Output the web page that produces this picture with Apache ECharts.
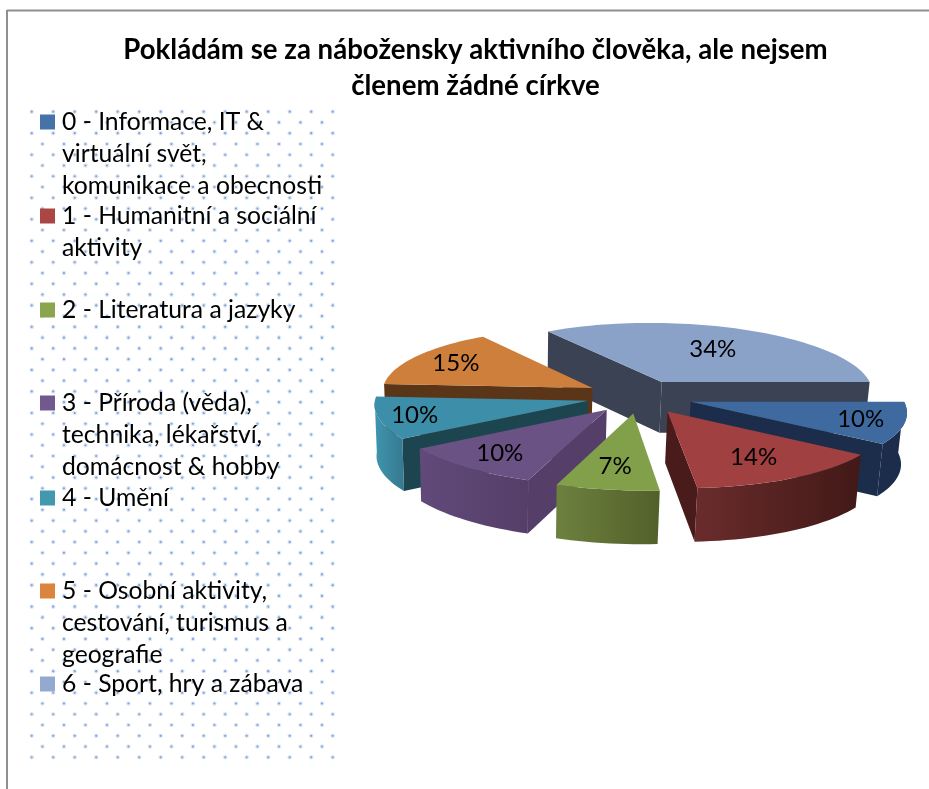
<!DOCTYPE html>
<html><head><meta charset="utf-8">
<style>html,body{margin:0;padding:0;background:#fff}#c{width:929px;height:789px}</style>
<script src="https://cdn.jsdelivr.net/npm/echarts@6/dist/echarts.min.js"></script>
</head><body><div id="c"></div>
<script>
// ---- data ----
const titleLines = ['Pokládám se za nábožensky aktivního člověka, ale nejsem', 'členem žádné církve'];
const legendLines = [
  ['0 - Informace, IT &', 'virtuální svět,', 'komunikace a obecnosti'],
  ['1 - Humanitní a sociální', 'aktivity'],
  ['2 - Literatura a jazyky'],
  ['3 - Příroda (věda),', 'technika, lékařství,', 'domácnost & hobby'],
  ['4 - Umění'],
  ['5 - Osobní aktivity,', 'cestování, turismus a', 'geografie'],
  ['6 - Sport, hry a zábava']
];
const values = [10, 14, 7, 10, 10, 15, 34];

// ---- styling ----
const topColors  = ['#3f6a9f', '#a04040', '#82a04a', '#6b5285', '#3d8ea8', '#cd7f3b', '#8ba2c8'];
const legendColors = ['#4572a7', '#aa4643', '#89a54e', '#71588f', '#4198af', '#db843d', '#93a9cf'];
const radialWall = ['#1b2d4a', '#4a1b1b', '#5a6c32', '#553f68', '#1d4550', '#5b3517', '#3b4254'];
const outerWall  = [['#1b2d4a', '#1b2d4a'], ['#6a2c2c', '#411917'], ['#6d813f', '#526029'], ['#614a7a', '#553f68'], ['#4095ae', '#35798f'], ['#5b3517', '#5b3517'], ['#3b4254', '#3b4254']];
const labelRadius = [0.80, 0.70, 0.72, 0.77, 0.83, 0.77, 0.60];
const paintOrder = [6, 0, 5, 4, 3, 1, 2];
const legendTops = [122, 216, 310, 403, 498, 591, 684];

// ---- pie projection ----
const P = {cx: 639, cy: 396.5, A: 212, B: 67, k: 0.09, explode: 0.25, depth: 51, kd: 0.04, start: 90, vanish: 120, converge: 0.015, convergeX: 512};
const rad = d => d * Math.PI / 180;
const total = values.reduce((a, b) => a + b, 0);
function project(u, v, down) {
  const s = 1 / (1 + P.k * v);
  const x = P.cx + P.A * u * s + P.vanish * (s - 1);
  const y = P.cy - P.B * v * s;
  return down ? [x - P.converge * (x - P.convergeX), y + P.depth / (1 + P.kd * v)] : [x, y];
}
function sliceAngles(i) {
  let before = 0;
  for (let j = 0; j < i; j++) before += values[j];
  const a0 = P.start + before / total * 360;
  return [a0, a0 + values[i] / total * 360];
}
function renderSlice(i) {
  return function (params, api) {
    const [a0, a1] = sliceAngles(i);
    const mid = (a0 + a1) / 2;
    const ou = P.explode * Math.sin(rad(mid)), ov = P.explode * Math.cos(rad(mid));
    const pt = (deg, r, down) => project(ou + r * Math.sin(rad(deg)), ov + r * Math.cos(rad(deg)), down);
    const steps = Math.max(8, Math.round((a1 - a0) / 2));
    const arc = [], arcB = [];
    for (let n = 0; n <= steps; n++) {
      const d = a0 + (a1 - a0) * n / steps;
      arc.push(pt(d, 1, false));
      arcB.push(pt(d, 1, true));
    }
    const apex = project(ou, ov, false), apexB = project(ou, ov, true);
    const children = [];
    const poly = (points, fill) => children.push({type: 'polygon', shape: {points}, style: {fill, stroke: null}, silent: true});
    // a radial wall shows when the slice's top lies above that wall's top edge
    const midPt = pt(mid, 0.6, false);
    [[arc[0], arcB[0]], [arc[steps], arcB[steps]]].forEach(([p, b]) => {
      const yAtMid = apex[1] + (p[1] - apex[1]) * (midPt[0] - apex[0]) / ((p[0] - apex[0]) || 1e-6);
      if (midPt[1] < yAtMid) poly([apex, p, b, apexB], radialWall[i]);
    });
    // outer rim: only the part facing the viewer
    const front = [], frontB = [];
    for (let n = 0; n <= steps; n++) {
      const d = a0 + (a1 - a0) * n / steps;
      if (Math.cos(rad(d)) < 0.02) { front.push(arc[n]); frontB.push(arcB[n]); }
    }
    if (front.length > 1) {
      const pts = front.concat(frontB.slice().reverse());
      poly(pts, {type: 'linear', x: 0, y: 0, x2: 1, y2: 0, colorStops: [{offset: 0, color: outerWall[i][0]}, {offset: 1, color: outerWall[i][1]}]});
    }
    poly([apex].concat(arc), topColors[i]);
    const lp = pt(mid, labelRadius[i], false);
    children.push({type: 'text', silent: true, z2: 10, style: {
      x: lp[0], y: lp[1], text: Math.round(api.value(0) / total * 100) + '%',
      fill: '#000', font: '24px Lato', align: 'center', verticalAlign: 'middle'}});
    return {type: 'group', children};
  };
}

// ---- page furniture ----
const graphic = [];
graphic.push({type: 'line', shape: {x1: 7, y1: 10.5, x2: 929, y2: 10.5}, style: {stroke: '#8f8f8f', lineWidth: 2}});
graphic.push({type: 'line', shape: {x1: 7, y1: 10, x2: 7, y2: 789}, style: {stroke: '#8f8f8f', lineWidth: 2}});
for (let r = 0; r < 61; r++) {
  for (let c = 0; c < 15; c++) {
    const x = 31.7 + (r % 2 ? 10.75 : 0) + c * 21.5, y = 111.7 + r * 10.76;
    if (x < 335) {
      graphic.push({type: 'circle', shape: {cx: x, cy: y, r: 2.3}, style: {fill: '#dde8f6'}, silent: true, z: 0});
      graphic.push({type: 'circle', shape: {cx: x, cy: y, r: 1.1}, style: {fill: '#7fa5d8'}, silent: true, z: 0});
    }
  }
}
titleLines.forEach((t, i) => graphic.push({type: 'text', z: 5, style: {x: 475.5, y: 50 + i * 36, text: t, fill: '#000', font: 'bold 27.6px Lato', align: 'center', verticalAlign: 'middle'}}));
legendLines.forEach((lines, i) => lines.slice(1).forEach((t, j) => graphic.push({type: 'text', z: 5, style: {
  x: 62, y: legendTops[i] + (j + 1) * 31.8, text: t, fill: '#000', font: '24.7px Lato', align: 'left', verticalAlign: 'middle'}})));

const names = legendLines.map(l => l.join(' '));
const chart = echarts.init(document.getElementById('c'), null, {renderer: 'canvas'});
chart.setOption({
  animation: false,
  color: legendColors,
  legend: names.map((n, i) => ({
    data: [n], left: 40, top: legendTops[i] - 15, orient: 'vertical', padding: 0, itemWidth: 15, itemHeight: 15,
    icon: 'rect', selectedMode: false, inactiveColor: legendColors[i], z: 5,
    formatter: () => legendLines[i][0],
    textStyle: {color: '#000', fontFamily: 'Lato', fontSize: 24.7, lineHeight: 30, padding: [0, 0, 0, 2]}
  })),
  graphic: {elements: graphic},
  series: values.map((v, i) => ({
    type: 'custom', name: names[i], coordinateSystem: 'none',
    z: 2 + paintOrder.indexOf(i) * 0.01, silent: true,
    itemStyle: {color: legendColors[i]},
    renderItem: renderSlice(i), data: [[v]]
  }))
});
</script></body></html>
